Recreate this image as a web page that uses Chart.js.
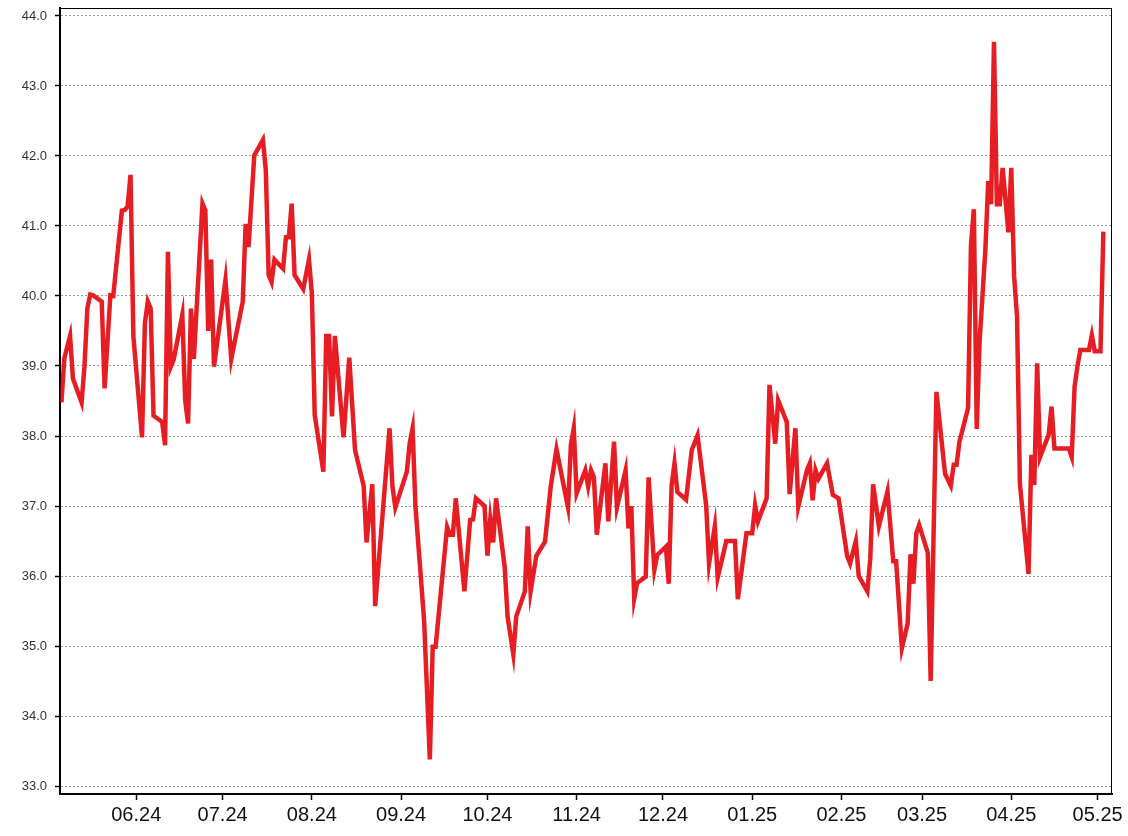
<!DOCTYPE html>
<html>
<head>
<meta charset="utf-8">
<script src="https://cdn.jsdelivr.net/npm/chart.js@4.4.1/dist/chart.umd.min.js"></script>
<style>
  html, body { margin: 0; padding: 0; background: #fff; }
  #wrap { width: 1128px; height: 836px; }
</style>
</head>
<body>
<div id="wrap"><canvas id="priceChart"></canvas></div>
<script>
const dates = [
  '2024-05-06', '2024-05-07', '2024-05-09', '2024-05-10', '2024-05-13', '2024-05-14', '2024-05-15', '2024-05-16',
  '2024-05-17', '2024-05-20', '2024-05-21', '2024-05-23', '2024-05-24', '2024-05-27', '2024-05-28', '2024-05-29',
  '2024-05-30', '2024-05-31', '2024-06-03', '2024-06-04', '2024-06-05', '2024-06-06', '2024-06-07', '2024-06-10',
  '2024-06-11', '2024-06-12', '2024-06-13', '2024-06-14', '2024-06-17', '2024-06-18', '2024-06-19', '2024-06-20',
  '2024-06-21', '2024-06-24', '2024-06-25', '2024-06-26', '2024-06-27', '2024-06-28', '2024-07-02', '2024-07-04',
  '2024-07-08', '2024-07-09', '2024-07-10', '2024-07-12', '2024-07-15', '2024-07-16', '2024-07-17', '2024-07-18',
  '2024-07-19', '2024-07-22', '2024-07-23', '2024-07-24', '2024-07-25', '2024-07-26', '2024-07-29', '2024-07-31',
  '2024-08-01', '2024-08-02', '2024-08-05', '2024-08-06', '2024-08-07', '2024-08-08', '2024-08-09', '2024-08-12',
  '2024-08-14', '2024-08-16', '2024-08-19', '2024-08-20', '2024-08-22', '2024-08-23', '2024-08-28', '2024-08-29',
  '2024-08-30', '2024-09-03', '2024-09-04', '2024-09-05', '2024-09-06', '2024-09-09', '2024-09-11', '2024-09-12',
  '2024-09-13', '2024-09-17', '2024-09-18', '2024-09-19', '2024-09-20', '2024-09-23', '2024-09-25', '2024-09-26',
  '2024-09-27', '2024-09-30', '2024-10-01', '2024-10-02', '2024-10-03', '2024-10-04', '2024-10-07', '2024-10-08',
  '2024-10-10', '2024-10-11', '2024-10-14', '2024-10-15', '2024-10-16', '2024-10-18', '2024-10-21', '2024-10-23',
  '2024-10-25', '2024-10-29', '2024-10-30', '2024-10-31', '2024-11-01', '2024-11-04', '2024-11-05', '2024-11-06',
  '2024-11-07', '2024-11-08', '2024-11-11', '2024-11-12', '2024-11-14', '2024-11-15', '2024-11-18', '2024-11-19',
  '2024-11-20', '2024-11-21', '2024-11-22', '2024-11-25', '2024-11-26', '2024-11-28', '2024-11-29', '2024-12-02',
  '2024-12-03', '2024-12-04', '2024-12-05', '2024-12-06', '2024-12-09', '2024-12-11', '2024-12-13', '2024-12-16',
  '2024-12-17', '2024-12-19', '2024-12-20', '2024-12-23', '2024-12-26', '2024-12-27', '2024-12-30', '2025-01-01',
  '2025-01-02', '2025-01-03', '2025-01-06', '2025-01-07', '2025-01-09', '2025-01-10', '2025-01-13', '2025-01-14',
  '2025-01-16', '2025-01-17', '2025-01-20', '2025-01-21', '2025-01-22', '2025-01-23', '2025-01-24', '2025-01-27',
  '2025-01-29', '2025-01-31', '2025-02-03', '2025-02-04', '2025-02-06', '2025-02-07', '2025-02-10', '2025-02-11',
  '2025-02-12', '2025-02-14', '2025-02-17', '2025-02-19', '2025-02-20', '2025-02-22', '2025-02-24', '2025-02-25',
  '2025-02-26', '2025-02-27', '2025-02-28', '2025-03-03', '2025-03-04', '2025-03-06', '2025-03-09', '2025-03-11',
  '2025-03-12', '2025-03-13', '2025-03-14', '2025-03-17', '2025-03-18', '2025-03-19', '2025-03-20', '2025-03-21',
  '2025-03-23', '2025-03-24', '2025-03-25', '2025-03-26', '2025-03-27', '2025-03-28', '2025-03-29', '2025-03-31',
  '2025-04-01', '2025-04-02', '2025-04-03', '2025-04-04', '2025-04-07', '2025-04-08', '2025-04-09', '2025-04-10',
  '2025-04-11', '2025-04-14', '2025-04-15', '2025-04-16', '2025-04-21', '2025-04-22', '2025-04-23', '2025-04-24',
  '2025-04-25', '2025-04-28', '2025-04-29', '2025-04-30', '2025-05-02', '2025-05-03'
];

const values = [
  38.48, 39.11, 39.43, 38.82, 38.48, 38.99, 39.82, 40.02,
  40.01, 39.92, 38.68, 40.01, 40.00, 41.22, 41.23, 41.28,
  41.73, 39.42, 37.98, 39.61, 39.92, 39.82, 38.29, 38.20,
  37.87, 40.63, 38.99, 39.09, 39.73, 38.51, 38.18, 39.82,
  39.10, 41.32, 41.22, 39.50, 40.52, 38.99, 40.23, 39.10,
  39.92, 41.03, 40.70, 42.01, 42.23, 41.80, 40.30, 40.20,
  40.52, 40.39, 40.84, 40.84, 41.32, 40.30, 40.10, 40.52,
  40.04, 38.30, 37.49, 39.43, 39.43, 38.28, 39.43, 37.98,
  39.12, 37.80, 37.29, 36.48, 37.31, 35.57, 38.11, 37.28,
  36.98, 37.49, 37.90, 38.11, 36.99, 35.37, 33.38, 34.99,
  34.99, 36.70, 36.59, 36.59, 37.11, 35.78, 36.80, 36.81,
  37.11, 37.00, 36.29, 36.81, 36.48, 37.11, 36.13, 35.42,
  34.88, 35.42, 35.78, 36.71, 35.78, 36.29, 36.49, 37.28,
  37.81, 36.98, 37.87, 38.11, 37.18, 37.51, 37.28, 37.51,
  37.41, 36.59, 37.61, 36.78, 37.92, 36.98, 37.51, 36.68,
  37.00, 35.68, 35.90, 35.99, 37.41, 36.09, 36.30, 36.42,
  35.89, 37.30, 37.61, 37.20, 37.09, 37.80, 38.01, 37.01,
  36.18, 36.71, 35.98, 36.50, 36.50, 35.67, 36.61, 36.61,
  37.01, 36.78, 37.11, 38.73, 37.89, 38.51, 38.20, 37.17,
  38.11, 36.99, 37.51, 37.61, 37.08, 37.51, 37.39, 37.61,
  37.16, 37.11, 36.28, 36.18, 36.50, 36.00, 35.78, 36.24,
  37.31, 36.71, 37.21, 36.21, 36.21, 34.97, 35.32, 36.31,
  35.89, 36.61, 36.73, 36.33, 34.50, 38.63, 37.46, 37.29,
  37.59, 37.59, 37.92, 38.40, 40.72, 41.24, 38.10, 39.35,
  40.66, 41.64, 41.31, 43.63, 41.31, 41.31, 41.83, 40.91,
  41.83, 40.28, 39.71, 37.32, 36.03, 37.73, 37.30, 39.04,
  37.70, 38.02, 38.42, 37.82, 37.82, 37.70, 38.70, 39.00,
  39.23, 39.23, 39.44, 39.21, 39.21, 40.92
];

const monthTicks = [
  '2024-06-01', '2024-07-01', '2024-08-01', '2024-09-01', '2024-10-01', '2024-11-01',
  '2024-12-01', '2025-01-01', '2025-02-01', '2025-03-01', '2025-04-01', '2025-05-01'
];
const monthLabels = ['06.24', '07.24', '08.24', '09.24', '10.24', '11.24', '12.24', '01.25', '02.25', '03.25', '04.25', '05.25'];
const yTicks = [33, 34, 35, 36, 37, 38, 39, 40, 41, 42, 43, 44];

const DAY = 86400000;
const origin = Date.UTC(2024, 4, 1);
function dayNum(s) {
  const p = s.split('-').map(Number);
  return (Date.UTC(p[0], p[1] - 1, p[2]) - origin) / DAY;
}

const points = dates.map((d, i) => ({ x: dayNum(d), y: values[i] }));
const tickDays = monthTicks.map(dayNum);

// black frame round the plot area (top and right sides)
const frame = {
  id: 'frame',
  afterDraw(chart) {
    const { ctx, chartArea: a } = chart;
    ctx.save();
    ctx.strokeStyle = '#000';
    ctx.lineWidth = 1;
    ctx.strokeRect(a.left, a.top + 0.5, a.right - a.left - 0.5, a.bottom - a.top);
    ctx.restore();
  }
};

const ctx = document.getElementById('priceChart').getContext('2d');
const priceChart = new Chart(ctx, {
  type: 'line',
  data: {
    datasets: [{
      data: points,
      borderColor: 'rgb(230, 30, 36)',
      borderWidth: 4.5,
      pointRadius: 0,
      tension: 0,
      fill: false
    }]
  },
  options: {
    responsive: true,
    maintainAspectRatio: false,
    animation: false,
    layout: { padding: { top: 8, right: 16, bottom: 0, left: 0 } },
    plugins: {
      legend: { display: false },
      tooltip: { enabled: false }
    },
    scales: {
      x: {
        type: 'linear',
        min: points[0].x - 0.5,
        max: points[points.length - 1].x + 3,
        afterBuildTicks: scale => { scale.ticks = tickDays.map(v => ({ value: v })); },
        afterFit: scale => {
          scale.height = 42;
          scale.paddingLeft = 0;
          scale.paddingRight = 0;
        },
        grid: {
          drawOnChartArea: false,
          drawTicks: true,
          tickLength: 6,
          tickColor: '#000',
          tickWidth: 1.5
        },
        border: { color: '#000', width: 2 },
        ticks: {
          autoSkip: false,
          maxRotation: 0,
          padding: 3,
          color: '#111',
          font: { size: 20, family: 'Liberation Sans, Arial, sans-serif' },
          callback: value => {
            const i = tickDays.indexOf(value);
            return i >= 0 ? monthLabels[i] : '';
          }
        }
      },
      y: {
        min: 32.886,
        max: 44.114,
        afterBuildTicks: scale => { scale.ticks = yTicks.map(v => ({ value: v })); },
        afterFit: scale => {
          scale.width = 60;
          scale.paddingTop = 0;
          scale.paddingBottom = 0;
        },
        grid: {
          color: '#999',
          lineWidth: 1,
          tickLength: 5,
          tickColor: '#000',
          tickWidth: 1.5
        },
        border: { color: '#000', width: 2, dash: [2, 2] },
        ticks: {
          padding: 8,
          color: '#333',
          font: { size: 13, family: 'Liberation Sans, Arial, sans-serif' },
          callback: value => value.toFixed(1)
        }
      }
    }
  },
  plugins: [frame]
});
</script>
</body>
</html>
